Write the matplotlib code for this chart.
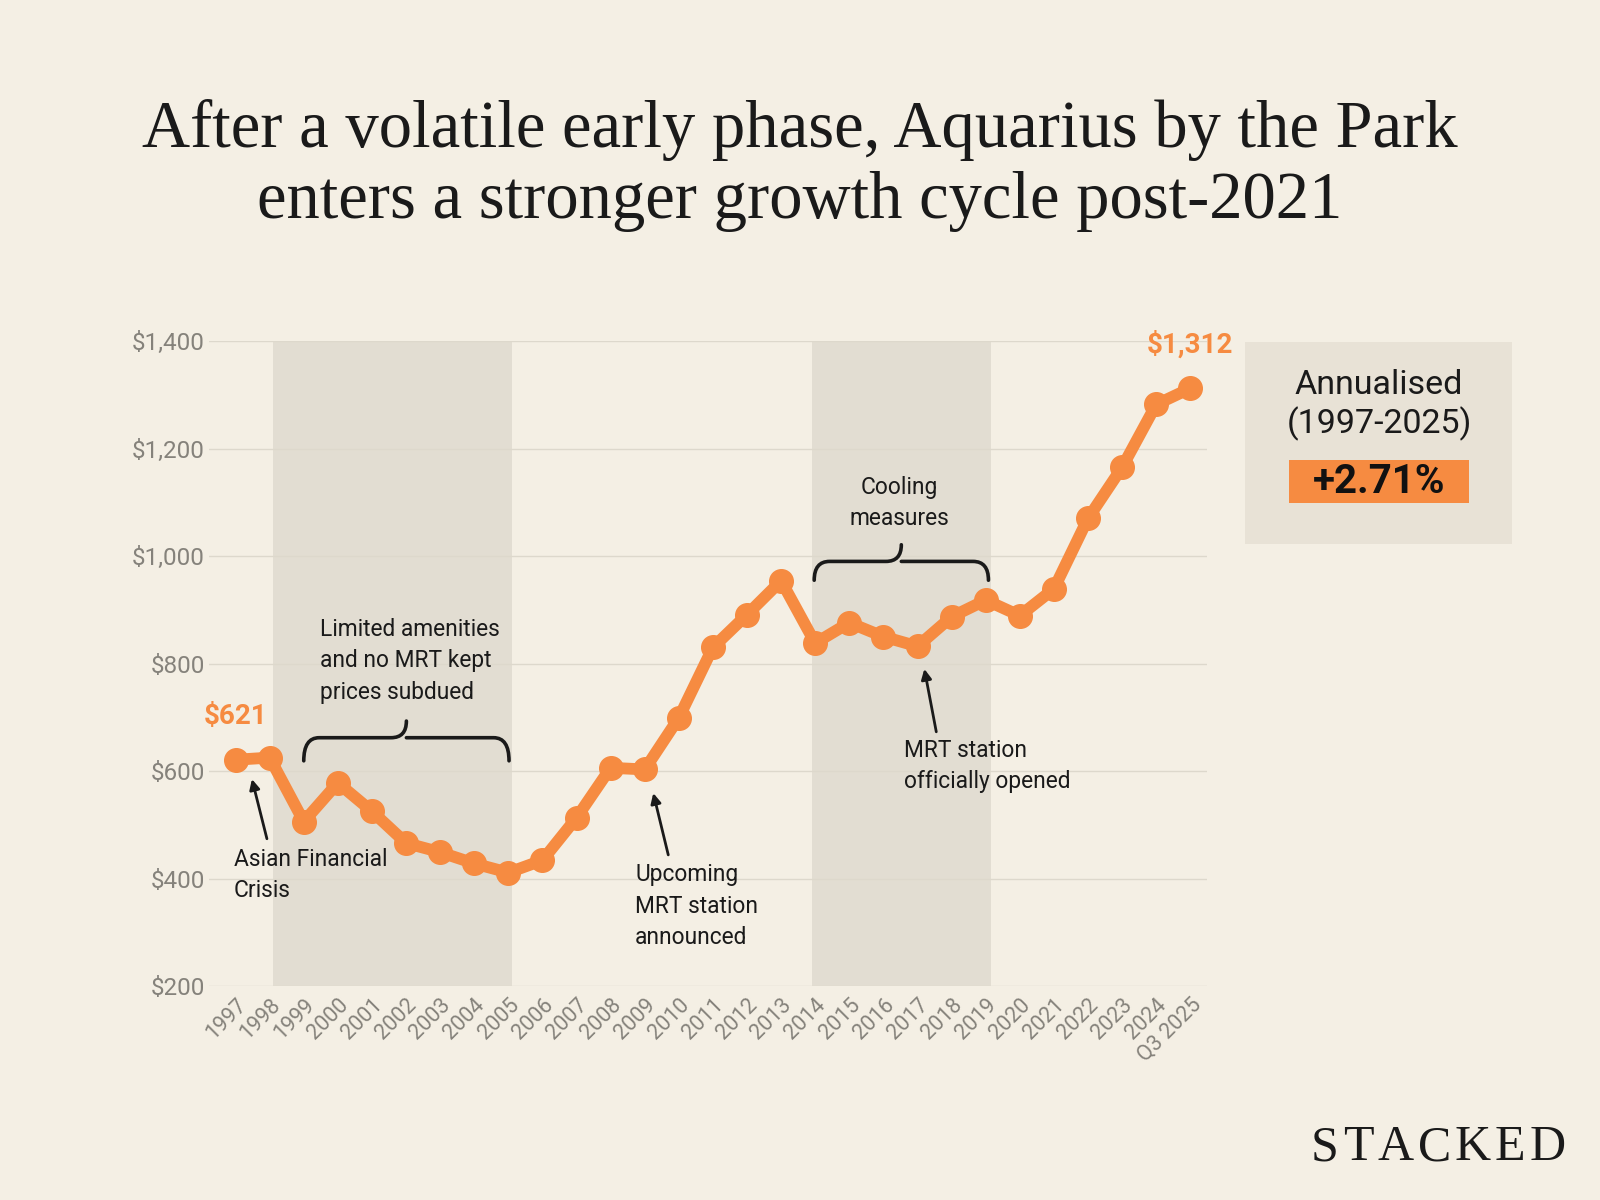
import matplotlib.pyplot as plt
from matplotlib.path import Path
from matplotlib.patches import PathPatch, Rectangle

years = ["1997", "1998", "1999", "2000", "2001", "2002", "2003", "2004", "2005",
         "2006", "2007", "2008", "2009", "2010", "2011", "2012", "2013", "2014",
         "2015", "2016", "2017", "2018", "2019", "2020", "2021", "2022", "2023",
         "2024", "Q3 2025"]
psf = [621, 625, 506, 578, 525, 466, 449, 428, 411, 434, 513, 606, 603, 699,
       830, 891, 954, 838, 876, 850, 832, 887, 918, 889, 939, 1070, 1165, 1282,
       1312]
y_ticks = [200, 400, 600, 800, 1000, 1200, 1400]
shaded_spans = [(1.1, 8.1), (16.9, 22.15)]

BG = "#f4efe4"
SHADE = "#e2ddd2"
ORANGE = "#f68b41"
GREY = "#85827b"
INK = "#1a1a1a"
SANS = "Roboto"
SERIF = "Liberation Serif"

fig = plt.figure(figsize=(16, 12), dpi=100, facecolor=BG)
ax = fig.add_axes([0.1306, 0.1783, 0.624, 0.5375])
ax.set_facecolor(BG)

x = list(range(len(years)))
for a, b in shaded_spans:
    ax.axvspan(a, b, color=SHADE, lw=0, zorder=0)
ax.plot(x, psf, color=ORANGE, lw=8.5, marker="o", ms=17, zorder=3,
        solid_capstyle="round", solid_joinstyle="round")

ax.set_xlim(-0.78, 28.5)
ax.set_ylim(200, 1400)
ax.set_yticks(y_ticks)
ax.set_yticklabels([f"${v:,}" for v in y_ticks], fontsize=17.5, color=GREY,
                   family=SANS)
ax.set_xticks(x)
ax.set_xticklabels(years, rotation=45, ha="right", rotation_mode="anchor",
                   fontsize=15.5, color=GREY, family=SANS)
ax.tick_params(axis="y", length=0, pad=3)
ax.tick_params(axis="x", length=0, pad=6)
ax.grid(axis="y", color="#ddd8cc", lw=1)
ax.set_axisbelow(True)
for s in ax.spines.values():
    s.set_visible(False)

# end labels
ax.text(0, psf[0] + 55, f"${psf[0]:,}", color=ORANGE, fontsize=20,
        fontweight="bold", ha="center", va="bottom", family=SANS)
ax.text(x[-1], psf[-1] + 55, f"${psf[-1]:,}", color=ORANGE, fontsize=20,
        fontweight="bold", ha="center", va="bottom", family=SANS)


def brace(x0, x1, y_end, y_mid, y_tip):
    xc = (x0 + x1) / 2
    r = 0.45
    verts = [(x0, y_end), (x0, y_mid), (x0 + r, y_mid),
             (xc - r, y_mid), (xc, y_mid), (xc, y_tip),
             (xc, y_mid), (xc + r, y_mid),
             (x1 - r, y_mid), (x1, y_mid), (x1, y_end)]
    codes = [Path.MOVETO, Path.CURVE3, Path.CURVE3,
             Path.LINETO, Path.CURVE3, Path.CURVE3,
             Path.MOVETO, Path.CURVE3, Path.LINETO,
             Path.CURVE3, Path.CURVE3]
    ax.add_patch(PathPatch(Path(verts, codes), fill=False, lw=2.6,
                           color=INK, zorder=4, capstyle="round"))


brace(2.0, 8.02, 619, 662, 693)
brace(16.97, 22.08, 955, 990, 1021)

note = dict(fontsize=16.4, color=INK, family=SANS, linespacing=1.45)
arrow = dict(arrowstyle="-|>", color=INK, lw=2, mutation_scale=15,
             shrinkA=0, shrinkB=0)

ax.annotate("", xy=(0.48, 585), xytext=(0.92, 474), arrowprops=arrow)
ax.text(-0.05, 457, "Asian Financial\nCrisis", va="top", ha="left", **note)

ax.annotate("", xy=(12.25, 559), xytext=(12.69, 444), arrowprops=arrow)
ax.text(11.72, 428, "Upcoming\nMRT station\nannounced", va="top", ha="left", **note)

ax.annotate("", xy=(20.2, 790), xytext=(20.55, 673), arrowprops=arrow)
ax.text(19.61, 659, "MRT station\nofficially opened", va="top", ha="left", **note)

ax.text(19.47, 1098, "Cooling\nmeasures", va="center", ha="center", **note)
ax.text(2.48, 884, "Limited amenities\nand no MRT kept\nprices subdued",
        va="top", ha="left", **note)

# title
fig.text(0.5, 1 - 130 / 1200,
         "After a volatile early phase, Aquarius by the Park",
         ha="center", va="center", fontsize=48, family=SERIF, color=INK)
fig.text(0.5, 1 - 201 / 1200,
         "enters a stronger growth cycle post-2021",
         ha="center", va="center", fontsize=48, family=SERIF, color=INK)

# annualised box
fig.patches.append(Rectangle((1245 / 1600, 1 - 544 / 1200), 267 / 1600, 202 / 1200,
                             transform=fig.transFigure, color="#e8e2d6", lw=0))
fig.patches.append(Rectangle((1289 / 1600, 1 - 503 / 1200), 180 / 1600, 43 / 1200,
                             transform=fig.transFigure, color=ORANGE, lw=0))
fig.text(1379 / 1600, 1 - 385 / 1200, "Annualised", ha="center", va="center",
         fontsize=24.5, family=SANS, color=INK)
fig.text(1379 / 1600, 1 - 424 / 1200, "(1997-2025)", ha="center", va="center",
         fontsize=24.5, family=SANS, color=INK)
fig.text(1379 / 1600, 1 - 482 / 1200, "+2.71%", ha="center", va="center",
         fontsize=29, fontweight="bold", family=SANS, color="#111111")

# letter-spaced wordmark
renderer = fig.canvas.get_renderer()
cx = 1311
for ch in "STACKED":
    t = fig.text(cx / 1600, 1 - 1148 / 1200, ch, ha="left", va="center",
                 fontsize=36, family=SERIF, color=INK)
    cx += t.get_window_extent(renderer).width + 4

fig.savefig("out.png", dpi=100, facecolor=BG)
